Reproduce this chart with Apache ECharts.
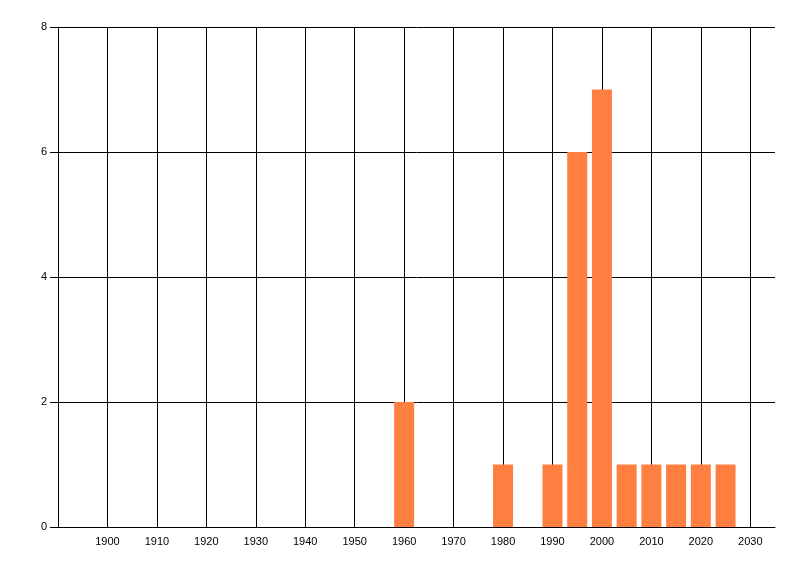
<!DOCTYPE html>
<html>
<head>
<meta charset="utf-8">
<script src="https://cdn.jsdelivr.net/npm/echarts@6/dist/echarts.min.js"></script>
<style>html,body{margin:0;padding:0;background:#fff}#c{width:800px;height:576px}</style>
</head>
<body>
<div id="c"></div>
<script>
var years = [1960, 1980, 1990, 1995, 2000, 2005, 2010, 2015, 2020, 2025];
var counts = [2, 1, 1, 6, 7, 1, 1, 1, 1, 1];
var xMin = 1890, xMax = 2035, xStep = 10;
var yMin = 0, yMax = 8, yStep = 2;

var chart = echarts.init(document.getElementById('c'), null, {renderer: 'canvas'});
var font = 'Liberation Sans';
chart.setOption({
  animation: false,
  backgroundColor: '#ffffff',
  grid: {left: 58, right: 25, top: 27, bottom: 49, containLabel: false},
  xAxis: {
    type: 'value', min: xMin, max: xMax, interval: xStep,
    axisLine: {show: true, onZero: false, lineStyle: {color: '#000', width: 1}},
    axisTick: {show: false},
    splitLine: {show: true, showMinLine: false, showMaxLine: false, lineStyle: {color: '#000', width: 1}},
    axisLabel: {
      color: '#000', fontFamily: font, fontSize: 11, margin: 9,
      showMinLabel: false, showMaxLabel: false,
      formatter: function (v) { return (v === xMin || v === xMax) ? '' : String(v); }
    }
  },
  yAxis: {
    type: 'value', min: yMin, max: yMax, interval: yStep,
    axisLine: {show: true, lineStyle: {color: '#000', width: 1}},
    axisTick: {show: true, length: 8, inside: false, lineStyle: {color: '#000'}},
    splitLine: {show: true, lineStyle: {color: '#000', width: 1}},
    axisLabel: {color: '#000', fontFamily: font, fontSize: 11, margin: 11}
  },
  series: [{
    type: 'bar',
    barWidth: 20,
    itemStyle: {color: '#ff7f41'},
    data: years.map(function (y, i) { return [y, counts[i]]; })
  }]
});
</script>
</body>
</html>
